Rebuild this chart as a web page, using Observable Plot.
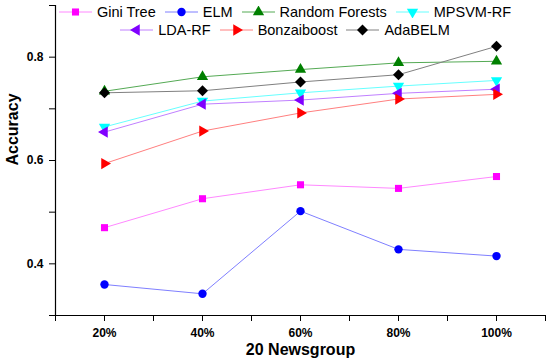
<!DOCTYPE html>
<html>
<head>
<meta charset="utf-8">
<script src="https://cdn.jsdelivr.net/npm/d3@7"></script>
<script src="https://cdn.jsdelivr.net/npm/@observablehq/plot@0.6"></script>
<style>
  body { margin: 0; background: #fff; }
  #wrap { position: relative; width: 550px; height: 360px; font-family: "Liberation Sans", Arial, sans-serif; }
  .row { position: absolute; left: 55px; width: 460px; display: flex; justify-content: center; gap: 9px; font-size: 14.5px; line-height: 18px; color: #000; }
  .item { display: flex; align-items: center; gap: 5px; white-space: nowrap; }
  .item svg { display: block; }
</style>
</head>
<body>
<div id="wrap"></div>
<script>
// ---- data ----
const xValues = [20, 40, 60, 80, 100];
const xTickLabels = ["20%", "40%", "60%", "80%", "100%"];
const yTickLabels = ["0.4", "0.6", "0.8"];
const seriesNames = ["Gini Tree", "ELM", "Random Forests", "MPSVM-RF", "LDA-RF", "Bonzaiboost", "AdaBELM"];
const giniTree      = [0.470, 0.526, 0.553, 0.546, 0.569];
const elm           = [0.360, 0.342, 0.502, 0.428, 0.415];
const randomForests = [0.734, 0.762, 0.776, 0.789, 0.792];
const mpsvmRF       = [0.665, 0.715, 0.731, 0.744, 0.755];
const ldaRF         = [0.655, 0.709, 0.717, 0.730, 0.738];
const bonzaiboost   = [0.594, 0.657, 0.692, 0.719, 0.728];
const adaBELM       = [0.731, 0.735, 0.752, 0.766, 0.821];

// ---- symbols ----
function triangle(angle) {
  return {
    draw(ctx, size) {
      // circumradius from area of equilateral triangle: A = 3*sqrt(3)/4 * R^2
      const R = Math.sqrt(size / (3 * Math.sqrt(3) / 4));
      for (let i = 0; i < 3; i++) {
        const a = angle + i * 2 * Math.PI / 3;
        const x = R * Math.cos(a), y = R * Math.sin(a);
        if (i === 0) ctx.moveTo(x, y); else ctx.lineTo(x, y);
      }
      ctx.closePath();
    }
  };
}
const diamondSym = {
  draw(ctx, size) {
    const h = Math.sqrt(size / 2);
    ctx.moveTo(0, -h); ctx.lineTo(h, 0); ctx.lineTo(0, h); ctx.lineTo(-h, 0); ctx.closePath();
  }
};
const seriesValues = [giniTree, elm, randomForests, mpsvmRF, ldaRF, bonzaiboost, adaBELM];
const markerColors = ["#ff00ff", "#0000ff", "#008000", "#00ffff", "#8000ff", "#ff0000", "#000000"];
const lineColors   = ["#ff88ff", "#7f7fff", "#55aa55", "#66ffff", "#c080ff", "#ff7f7f", "#808080"];
const symbols = [d3.symbolSquare, d3.symbolCircle, triangle(-Math.PI / 2), triangle(Math.PI / 2), triangle(Math.PI), triangle(0), diamondSym];
const symbolSizes = [50, 55, 55, 55, 55, 55, 60];

const rows = [];
seriesNames.forEach((name, i) => {
  xValues.forEach((x, j) => rows.push({ series: name, idx: i, x, y: seriesValues[i][j] }));
});

const font = '"Liberation Sans", Arial, sans-serif';
const marks = [];
seriesNames.forEach((name, i) => {
  const d = rows.filter(r => r.idx === i);
  marks.push(Plot.line(d, { x: "x", y: "y", stroke: lineColors[i], strokeWidth: 1 }));
});
seriesNames.forEach((name, i) => {
  const d = rows.filter(r => r.idx === i);
  marks.push(Plot.dot(d, { x: "x", y: "y", symbol: symbols[i], r: Math.sqrt(symbolSizes[i] / Math.PI), fill: markerColors[i], stroke: "none" }));
});

const xTicks = d3.range(10, 111, 10);
const yTicks = d3.range(3, 10).map(v => v / 10);

const chart = Plot.plot({
  width: 550,
  height: 360,
  marginLeft: 55,
  marginRight: 5,
  marginTop: 5,
  marginBottom: 45,
  style: { fontFamily: font, background: "#fff", overflow: "visible" },
  x: { domain: [10, 110] },
  y: { domain: [0.3, 0.9] },
  marks: [
    Plot.axisX({ ticks: xTicks, tickSize: 6, tickPadding: 7, label: null,
      tickFormat: d => { const k = xValues.indexOf(d); return k >= 0 ? xTickLabels[k] : ""; },
      fontSize: 12, fontWeight: "bold", stroke: "#000", strokeWidth: 1 }),
    Plot.axisY({ ticks: yTicks, tickSize: 6, tickPadding: 6, label: null,
      tickFormat: d => { const s = d3.format(".1f")(d); return yTickLabels.includes(s) ? s : ""; },
      fontSize: 12, fontWeight: "bold", stroke: "#000", strokeWidth: 1 }),
    Plot.ruleY([0.3], { stroke: "#000", strokeWidth: 1.2 }),
    Plot.ruleX([10], { stroke: "#000", strokeWidth: 1.2 }),
    Plot.text(["20 Newsgroup"], { frameAnchor: "bottom", dy: 34, fontSize: 16, fontWeight: "bold", lineAnchor: "middle" }),
    Plot.text(["Accuracy"], { frameAnchor: "left", dx: -43, dy: 5, rotate: -90, fontSize: 16, fontWeight: "bold", lineAnchor: "middle" }),
    ...marks
  ]
});

const wrap = document.getElementById("wrap");
wrap.appendChild(chart);

// ---- legend ----
const legendRows = [[0, 1, 2, 3], [4, 5, 6]];
legendRows.forEach((items, r) => {
  const row = document.createElement("div");
  row.className = "row";
  row.style.top = (3 + r * 18) + "px";
  items.forEach(i => {
    const it = document.createElement("div");
    it.className = "item";
    const sym = d3.symbol(symbols[i], symbolSizes[i])();
    it.innerHTML = `<svg width="33" height="12"><line x1="0" x2="33" y1="6" y2="6" stroke="${lineColors[i]}" stroke-width="1"/><path transform="translate(16.5,6)" d="${sym}" fill="${markerColors[i]}"/></svg><span>${seriesNames[i]}</span>`;
    row.appendChild(it);
  });
  wrap.appendChild(row);
});
</script>
</body>
</html>
